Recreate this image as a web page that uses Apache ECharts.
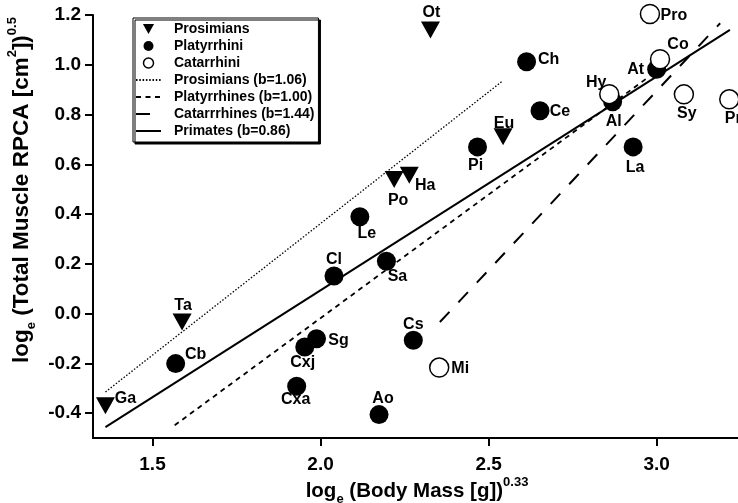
<!DOCTYPE html>
<html lang="en">
<head>
    <meta charset="UTF-8">
    <title>Muscle RPCA vs body mass</title>
    <script src="https://cdn.jsdelivr.net/npm/echarts@6.0.0/dist/echarts.min.js"></script>
    <style>
        *{
            margin: 0;
            padding: 0;
        }
        html,body{
            width: 100%;
            height: 100%;
            background: #fff;
        }
        .main{
            width: 738px;
            height: 503px;
        }
    </style>
</head>
<body>
<div class="main"></div>
<script>
    // values: [loge(mass)^0.33, loge(RPCA^0.5)]
    let categories = ['Prosimians', 'Platyrrhini', 'Catarrhini'];
    let prosimianNames = ['Ga', 'Ta', 'Po', 'Ha', 'Ot', 'Eu'];
    let prosimianValues = [[1.36, -0.37], [1.588, -0.034], [2.219, 0.539], [2.264, 0.556], [2.327, 1.14], [2.543, 0.711]];
    let platyrrhiniNames = ['Cb', 'Cl', 'Sa', 'Le', 'Sg', 'Cxj', 'Cxa', 'Ao', 'Cs', 'Pi', 'Ch', 'Ce', 'At', 'Al', 'La'];
    let platyrrhiniValues = [[1.569, -0.201], [2.04, 0.151], [2.196, 0.21], [2.117, 0.389], [1.988, -0.101], [1.953, -0.134],
        [1.929, -0.292], [2.174, -0.406], [2.276, -0.107], [2.467, 0.67], [2.613, 1.012], [2.653, 0.815], [3.0, 0.982],
        [2.869, 0.851], [2.93, 0.67]];
    let catarrhiniNames = ['Mi', 'Hy', 'Co', 'Pro', 'Sy', 'Pr'];
    let catarrhiniValues = [[2.353, -0.217], [2.859, 0.882], [3.01, 1.022], [2.98, 1.204], [3.081, 0.881], [3.216, 0.861]];

    // fitted lines, end points
    let fitNames = ['Prosimians (b=1.06)', 'Platyrrhines (b=1.00)', 'Catarrrhines (b=1.44)', 'Primates (b=0.86)'];
    let prosimianFit = [[1.36, -0.315], [2.539, 0.932]];
    let platyrrhineFit = [[1.566, -0.449], [2.97, 0.945]];
    let catarrhineFit = [[2.355, -0.034], [3.189, 1.167]];
    let primateFit = [[1.36, -0.456], [3.218, 1.14]];

    let xTicks = [1.5, 2.0, 2.5, 3.0];
    let yTicks = [-0.4, -0.2, 0, 0.2, 0.4, 0.6, 0.8, 1.0, 1.2];

    // where each point label sits, relative to the marker centre
    let labelOffset = {
        Ga: [20, -7], Ta: [1, -16], Po: [4, 21], Ha: [16, 10], Ot: [1, -17], Eu: [1, -13],
        Cb: [20, -9], Cl: [0, -16], Sa: [11, 15], Le: [7, 17], Sg: [22, 2], Cxj: [-2, 16], Cxa: [-1, 13],
        Ao: [4, -16], Cs: [0, -16], Pi: [-2, 19], Ch: [22, -2], Ce: [20, 1], At: [-21, 0], Al: [1, 20], La: [2, 21],
        Pro: [24, 2], Co: [18, -15], Hy: [-13, -12], Sy: [3, 19], Pr: [4, 19], Mi: [21, 1]
    };

    let font = '"Liberation Sans", Arial, Helvetica, sans-serif';
    let main = echarts.init(document.getElementsByClassName('main')[0]);

    function points(names, values){
        return names.map((name, i)=>({
            name: name,
            value: values[i],
            label: {offset: labelOffset[name]}
        }));
    }

    function fitLine(name, data, dash, width){
        return {
            name: name,
            type: 'line',
            data: data,
            symbol: 'none',
            silent: true,
            itemStyle: {color: '#000'},
            lineStyle: {color: '#000', width: width, type: dash}
        };
    }

    let pointLabel = {
        show: true,
        position: 'inside',
        formatter: p=>p.name,
        color: '#000',
        fontSize: 16,
        fontWeight: 'bold',
        fontFamily: font
    };

    let series = [
        fitLine(fitNames[0], prosimianFit, [1.5, 1.8], 1.3),
        fitLine(fitNames[1], platyrrhineFit, [5, 4.5], 1.8),
        fitLine(fitNames[2], catarrhineFit, [14, 13], 2),
        fitLine(fitNames[3], primateFit, 'solid', 2),
        {
            name: categories[0],
            type: 'scatter',
            clip: false,
            symbol: 'triangle',
            symbolRotate: 180,
            symbolSize: [19, 17],
            itemStyle: {color: '#000', opacity: 1},
            label: pointLabel,
            data: points(prosimianNames, prosimianValues)
        },
        {
            name: categories[1],
            type: 'scatter',
            clip: false,
            symbol: 'circle',
            symbolSize: 19,
            itemStyle: {color: '#000', opacity: 1},
            label: pointLabel,
            data: points(platyrrhiniNames, platyrrhiniValues)
        },
        {
            name: categories[2],
            type: 'scatter',
            clip: false,
            symbol: 'circle',
            symbolSize: 19,
            itemStyle: {color: '#fff', borderColor: '#000', borderWidth: 1.5, opacity: 1},
            label: pointLabel,
            data: points(catarrhiniNames, catarrhiniValues)
        }
    ];

    function titleRich(size){
        return {
            n: {fontSize: size, fontWeight: 'bold', fontFamily: font, lineHeight: size + 9, fill: '#000', verticalAlign: 'middle'},
            sub: {fontSize: 13, fontWeight: 'bold', fontFamily: font, lineHeight: 13, fill: '#000', verticalAlign: 'bottom'},
            sup: {fontSize: 13, fontWeight: 'bold', fontFamily: font, lineHeight: 13, fill: '#000', verticalAlign: 'top'}
        };
    }

    let noMarker = {opacity: 0};

    let option = {
        backgroundColor: '#fff',
        animation: false,
        grid: {
            left: 93,
            right: 0,
            top: 15,
            bottom: 65,
            outerBoundsMode: 'none'
        },
        legend: {
            orient: 'vertical',
            left: 133,
            top: 18,
            padding: [4, 4, 4, 2],
            itemGap: 3,
            itemWidth: 25,
            itemHeight: 10,
            symbolKeepAspect: true,
            backgroundColor: '#fff',
            borderColor: '#000',
            borderWidth: 1,
            shadowColor: '#000',
            shadowBlur: 0,
            shadowOffsetX: 2,
            shadowOffsetY: 2,
            selectedMode: false,
            textStyle: {
                color: '#000',
                fontSize: 14,
                fontWeight: 'bold',
                fontFamily: font,
                lineHeight: 13,
                padding: [0, 0, 0, 8]
            },
            data: [
                {name: categories[0], icon: 'path://M0,0L10,0L5,9Z', itemStyle: {color: '#000', opacity: 1}},
                {name: categories[1], itemStyle: {color: '#000', opacity: 1}},
                {name: categories[2], itemStyle: {color: '#fff', borderColor: '#000', borderWidth: 1.5, opacity: 1}},
                {name: fitNames[0], itemStyle: noMarker},
                {name: fitNames[1], itemStyle: noMarker},
                {name: fitNames[2], itemStyle: noMarker},
                {name: fitNames[3], itemStyle: noMarker}
            ]
        },
        xAxis: {
            type: 'value',
            min: 1.323,
            max: 3.242,
            splitLine: {show: false},
            axisLine: {onZero: false, lineStyle: {color: '#000', width: 2}},
            axisTick: {customValues: xTicks, length: 8, lineStyle: {color: '#000', width: 2}},
            axisLabel: {
                customValues: xTicks,
                formatter: v=>v.toFixed(1),
                color: '#000',
                fontSize: 19,
                fontWeight: 'bold',
                fontFamily: font,
                margin: 17
            }
        },
        yAxis: {
            type: 'value',
            min: -0.5,
            max: 1.2,
            splitLine: {show: false},
            axisLine: {show: true, onZero: false, lineStyle: {color: '#000', width: 2}},
            axisTick: {show: true, customValues: yTicks, length: 8, lineStyle: {color: '#000', width: 2}},
            axisLabel: {
                customValues: yTicks,
                formatter: v=>v.toFixed(1),
                color: '#000',
                fontSize: 19,
                fontWeight: 'bold',
                fontFamily: font,
                margin: 12
            }
        },
        graphic: [
            {
                type: 'text',
                x: 417,
                y: 491,
                style: {
                    text: '{n|log}{sub|e}{n| (Body Mass [g])}{sup|0.33}',
                    align: 'center',
                    verticalAlign: 'middle',
                    rich: titleRich(20.5)
                }
            },
            {
                type: 'text',
                x: 22,
                y: 190,
                rotation: Math.PI / 2,
                style: {
                    text: '{n|log}{sub|e}{n| (Total Muscle RPCA [cm}{sup|2}{n|])}{sup|0.5}',
                    align: 'center',
                    verticalAlign: 'middle',
                    rich: titleRich(22.5)
                }
            }
        ],
        series
    };
    main.setOption(option);
</script>
</body>
</html>
